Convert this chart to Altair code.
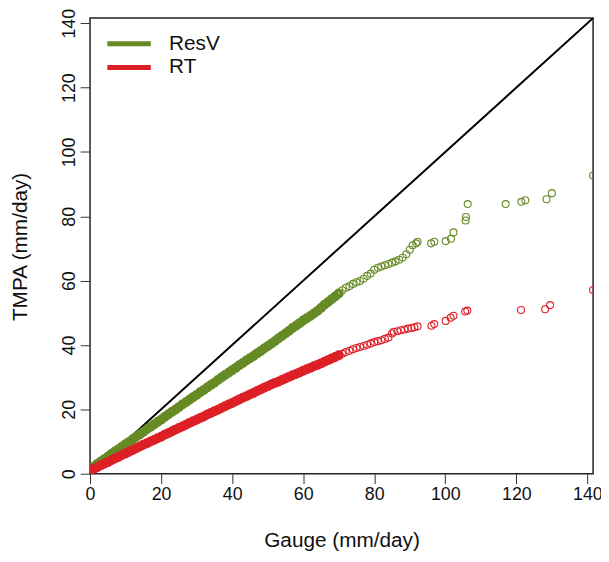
import altair as alt
import pandas as pd

# ---- data ----
gauge_dense = [0, 1, 2, 3, 4, 5, 6, 7, 8, 9, 10, 11, 12, 13, 14, 15, 16, 17, 18, 19,
               20, 21, 22, 23, 24, 25, 26, 27, 28, 29, 30, 31, 32, 33, 34, 35, 36, 37, 38, 39,
               40, 41, 42, 43, 44, 45, 46, 47, 48, 49, 50, 51, 52, 53, 54, 55, 56, 57, 58, 59,
               60, 61, 62, 63, 64, 65, 66, 67, 68, 69, 70]
resv_dense = [1.5, 2.2, 3.0, 3.8, 4.5, 5.3, 6.1, 6.9, 7.6, 8.4, 9.2, 9.9, 10.7, 11.5, 12.2,
              13.0, 13.8, 14.5, 15.3, 16.1, 16.8, 17.6, 18.4, 19.2, 19.9, 20.7, 21.5, 22.2,
              23.0, 23.8, 24.5, 25.3, 26.0, 26.8, 27.6, 28.3, 29.1, 29.9, 30.7, 31.4, 32.2,
              32.9, 33.7, 34.4, 35.2, 35.9, 36.6, 37.4, 38.1, 38.9, 39.6, 40.4, 41.2, 42.0,
              42.8, 43.6, 44.4, 45.3, 46.0, 46.8, 47.6, 48.3, 49.0, 49.8, 50.6, 51.5, 52.5,
              53.4, 54.2, 55.1, 56.0]
rt_dense = [1.0, 1.5, 2.0, 2.6, 3.1, 3.6, 4.2, 4.7, 5.2, 5.8, 6.3, 6.8, 7.4, 7.9, 8.5,
            9.0, 9.5, 10.0, 10.5, 11.0, 11.5, 12.1, 12.6, 13.1, 13.7, 14.2, 14.7, 15.2,
            15.8, 16.3, 16.8, 17.3, 17.8, 18.4, 18.9, 19.4, 19.9, 20.4, 21.0, 21.5, 22.0,
            22.5, 23.1, 23.6, 24.1, 24.6, 25.1, 25.7, 26.2, 26.7, 27.2, 27.7, 28.2, 28.6,
            29.1, 29.6, 30.1, 30.6, 31.0, 31.5, 32.0, 32.5, 32.9, 33.4, 33.8, 34.3, 34.8,
            35.3, 35.8, 36.3, 36.8]

resv_tail_gauge = [71, 72, 73, 74, 75, 76, 77, 78, 79, 80, 81, 82, 83, 84, 85, 86, 87, 88,
                   89, 90, 90.8, 91.8, 92.2, 96.0, 96.9, 100.1, 101.6, 102.3, 105.7, 105.8,
                   106.3, 117.0, 121.4, 122.5, 128.5, 130.0, 141.6]
resv_tail_tmpa = [57.0, 57.8, 58.3, 59.0, 59.5, 59.9, 60.6, 61.5, 62.2, 63.4, 64.0, 64.4,
                  64.8, 65.2, 65.6, 66.0, 66.5, 67.2, 68.2, 69.6, 71.0, 71.6, 72.1, 71.6,
                  72.1, 72.3, 73.0, 75.0, 78.7, 79.8, 83.8, 83.8, 84.5, 85.0, 85.3, 87.2, 92.7]

rt_tail_gauge = [71, 72, 73, 74, 75, 76, 77, 78, 79, 80, 81, 82, 83, 84, 85, 85.5, 86.5,
                 87.5, 88.5, 89.5, 90.5, 91.3, 92.2, 96.1, 96.9, 100.1, 101.5, 102.3, 105.6,
                 106.2, 121.3, 128.1, 129.5, 141.6]
rt_tail_tmpa = [37.3, 37.8, 38.2, 38.7, 39.1, 39.4, 39.7, 40.1, 40.5, 40.9, 41.2, 41.5,
                41.9, 42.3, 43.6, 44.1, 44.3, 44.6, 44.8, 45.1, 45.3, 45.5, 45.8, 46.0,
                46.5, 47.5, 48.5, 49.1, 50.4, 50.7, 50.9, 51.1, 52.4, 57.1]

one_to_one = [0, 141.6]
series_names = ["ResV", "RT"]
series_colors = ["#668A24", "#DD1F26"]
ticks = [0, 20, 40, 60, 80, 100, 120, 140]
axis_max = 141.6

# ---- frames ----
df_resv_dense = pd.DataFrame({"gauge": gauge_dense, "tmpa": resv_dense, "series": "ResV"})
df_rt_dense = pd.DataFrame({"gauge": gauge_dense, "tmpa": rt_dense, "series": "RT"})
df_resv_tail = pd.DataFrame({"gauge": resv_tail_gauge, "tmpa": resv_tail_tmpa, "series": "ResV"})
df_rt_tail = pd.DataFrame({"gauge": rt_tail_gauge, "tmpa": rt_tail_tmpa, "series": "RT"})
df_line = pd.DataFrame({"gauge": one_to_one, "tmpa": one_to_one})

FONT = "Liberation Sans"

xscale = alt.Scale(domain=[0, axis_max], nice=False, zero=False)
yscale = alt.Scale(domain=[0, axis_max], nice=False, zero=False)
cscale = alt.Scale(domain=series_names, range=series_colors)

xaxis = alt.Axis(values=ticks, title="Gauge (mm/day)", domain=False, grid=False,
                 tickSize=10, tickColor="#333333", tickWidth=1,
                 labelFontSize=18, labelPadding=2, labelColor="#111111", labelFlush=False,
                 labelFont=FONT, titleFont=FONT, titleFontSize=21, titleFontWeight="normal",
                 titleColor="#111111", titleBaseline="alphabetic", titleY=74)
yaxis = alt.Axis(values=ticks, title="TMPA (mm/day)", domain=False, grid=False,
                 tickSize=10, tickColor="#333333", tickWidth=1,
                 labelFontSize=18, labelPadding=6, labelColor="#111111", labelFlush=False,
                 labelAngle=270, labelAlign="center", labelBaseline="alphabetic",
                 labelFont=FONT, titleFont=FONT, titleFontSize=21, titleFontWeight="normal",
                 titleColor="#111111", titleAngle=270, titleAlign="center",
                 titleBaseline="alphabetic", titleX=-64, titleY=231)

legend = alt.Legend(title=None, orient="none", legendX=15, legendY=14,
                    symbolType="stroke", symbolStrokeWidth=5, symbolSize=1936,
                    labelFontSize=21, labelFont=FONT, labelColor="#111111",
                    clipHeight=24, rowPadding=0, labelOffset=16, padding=0)

line = alt.Chart(df_line).mark_line(color="black", strokeWidth=2, clip=True).encode(
    x=alt.X("gauge:Q", scale=xscale, axis=xaxis),
    y=alt.Y("tmpa:Q", scale=yscale, axis=yaxis),
)


def dense(df):
    return alt.Chart(df).mark_point(size=42, filled=False, strokeWidth=3.6, opacity=1,
                                    clip=True).encode(
        x=alt.X("gauge:Q", scale=xscale),
        y=alt.Y("tmpa:Q", scale=yscale),
        color=alt.Color("series:N", scale=cscale, legend=legend),
    )


def tail(df):
    return alt.Chart(df).mark_point(size=50, filled=False, strokeWidth=1.1, opacity=1,
                                    clip=True).encode(
        x=alt.X("gauge:Q", scale=xscale),
        y=alt.Y("tmpa:Q", scale=yscale),
        color=alt.Color("series:N", scale=cscale, legend=legend),
    )


chart = alt.layer(
    line,
    dense(df_resv_dense), tail(df_resv_tail),
    dense(df_rt_dense), tail(df_rt_tail),
).properties(
    width=509, height=461,
    autosize=alt.AutoSizeParams(type="none"),
    padding={"left": 83, "top": 7, "right": 8, "bottom": 78},
).configure(
    font=FONT
).configure_view(
    stroke="#222222", strokeWidth=1.5
)

chart.save("out.html", embed_options={"renderer": "svg", "actions": False})
